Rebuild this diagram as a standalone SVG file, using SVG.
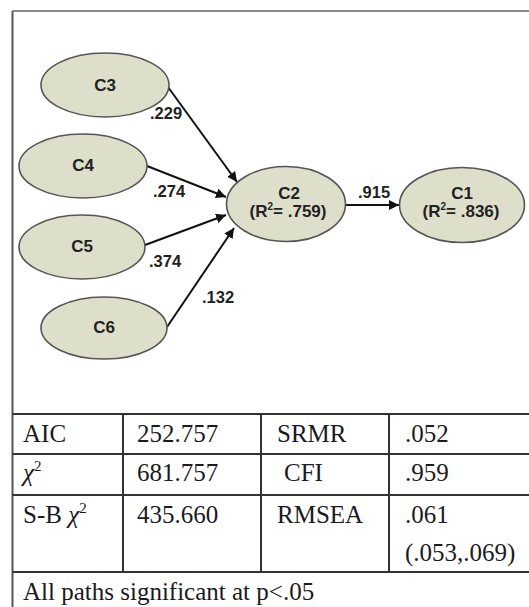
<svg xmlns="http://www.w3.org/2000/svg" width="529" height="607" viewBox="0 0 529 607">
<style>
.node ellipse{fill:#dedfca;stroke:#555;stroke-width:1.6}
.nt{font-family:"Liberation Sans",Arial,sans-serif;font-weight:bold;font-size:17px;fill:#222;text-anchor:middle}
.lbl{font-family:"Liberation Sans",Arial,sans-serif;font-weight:bold;font-size:16.5px;fill:#222}
.edge{stroke:#111;stroke-width:2;fill:none;marker-end:url(#ah)}
.grid{stroke:#333;stroke-width:2}
.tt{font-family:"Liberation Serif","Times New Roman",serif;font-size:25px;fill:#1a1a22}
</style>
<defs>
<marker id="ah" viewBox="0 0 10 10" refX="10" refY="5" markerWidth="5" markerHeight="5" orient="auto" markerUnits="strokeWidth">
<path d="M0,0 L10,5 L0,10 z" fill="#111"/>
</marker>
</defs>
<rect x="0" y="0" width="529" height="607" fill="#fff"/>
<g id="frame">
<line x1="12.5" y1="11" x2="529" y2="11" stroke="#888" stroke-width="2"/>
<line x1="12.5" y1="11" x2="12.5" y2="607" stroke="#555" stroke-width="2"/>
</g>
<g id="connectors">
<line class="edge" x1="168" y1="87" x2="237" y2="182"/>
<line class="edge" x1="147" y1="166" x2="226" y2="197"/>
<line class="edge" x1="145" y1="245" x2="226" y2="215"/>
<line class="edge" x1="167" y1="327" x2="234" y2="228"/>
<line class="edge" x1="346" y1="205" x2="399" y2="205"/>
<text class="lbl" x="150" y="119">.229</text>
<text class="lbl" x="153" y="197">.274</text>
<text class="lbl" x="149" y="267">.374</text>
<text class="lbl" x="202" y="303">.132</text>
<text class="lbl" x="358" y="198">.915</text>
</g>
<g id="C3" class="node"><ellipse cx="105" cy="85" rx="64" ry="32"/><text class="nt" x="105" y="91">C3</text></g>
<g id="C4" class="node"><ellipse cx="83" cy="166" rx="64" ry="32"/><text class="nt" x="83" y="171">C4</text></g>
<g id="C5" class="node"><ellipse cx="82" cy="247" rx="63" ry="32"/><text class="nt" x="82" y="252">C5</text></g>
<g id="C6" class="node"><ellipse cx="104" cy="328" rx="63" ry="31"/><text class="nt" x="104" y="333">C6</text></g>
<g id="C2" class="node"><ellipse cx="286" cy="204" rx="59.5" ry="37.5"/>
<text class="nt" x="289" y="199">C2</text>
<text class="nt" x="288" y="217">(R<tspan font-size="10" dy="-7">2</tspan><tspan dy="7">= .759)</tspan></text></g>
<g id="C1" class="node"><ellipse cx="462" cy="205" rx="62.5" ry="37.5"/>
<text class="nt" x="462" y="199">C1</text>
<text class="nt" x="461" y="217">(R<tspan font-size="10" dy="-7">2</tspan><tspan dy="7">= .836)</tspan></text></g>
<g id="table">
<line class="grid" x1="12.5" y1="414" x2="529" y2="414"/>
<line class="grid" x1="12.5" y1="454" x2="529" y2="454"/>
<line class="grid" x1="12.5" y1="495" x2="529" y2="495"/>
<line class="grid" x1="12.5" y1="572" x2="529" y2="572"/>
<line class="grid" x1="123" y1="414" x2="123" y2="572"/>
<line class="grid" x1="261" y1="414" x2="261" y2="572"/>
<line class="grid" x1="389" y1="414" x2="389" y2="572"/>
<text class="tt" x="23" y="442">AIC</text>
<text class="tt" x="137" y="442">252.757</text>
<text class="tt" x="277" y="442">SRMR</text>
<text class="tt" x="405" y="442">.052</text>
<text class="tt" x="23" y="481"><tspan font-style="italic">χ</tspan><tspan font-size="15" dy="-10">2</tspan></text>
<text class="tt" x="137" y="481">681.757</text>
<text class="tt" x="284" y="481">CFI</text>
<text class="tt" x="405" y="481">.959</text>
<text class="tt" x="23" y="523">S-B <tspan font-style="italic">χ</tspan><tspan font-size="15" dy="-10">2</tspan></text>
<text class="tt" x="137" y="523">435.660</text>
<text class="tt" x="277" y="523">RMSEA</text>
<text class="tt" x="405" y="523">.061</text>
<text class="tt" x="405" y="561">(.053,.069)</text>
<text class="tt" x="23" y="600">All paths significant at p&lt;.05</text>
</g>
</svg>
